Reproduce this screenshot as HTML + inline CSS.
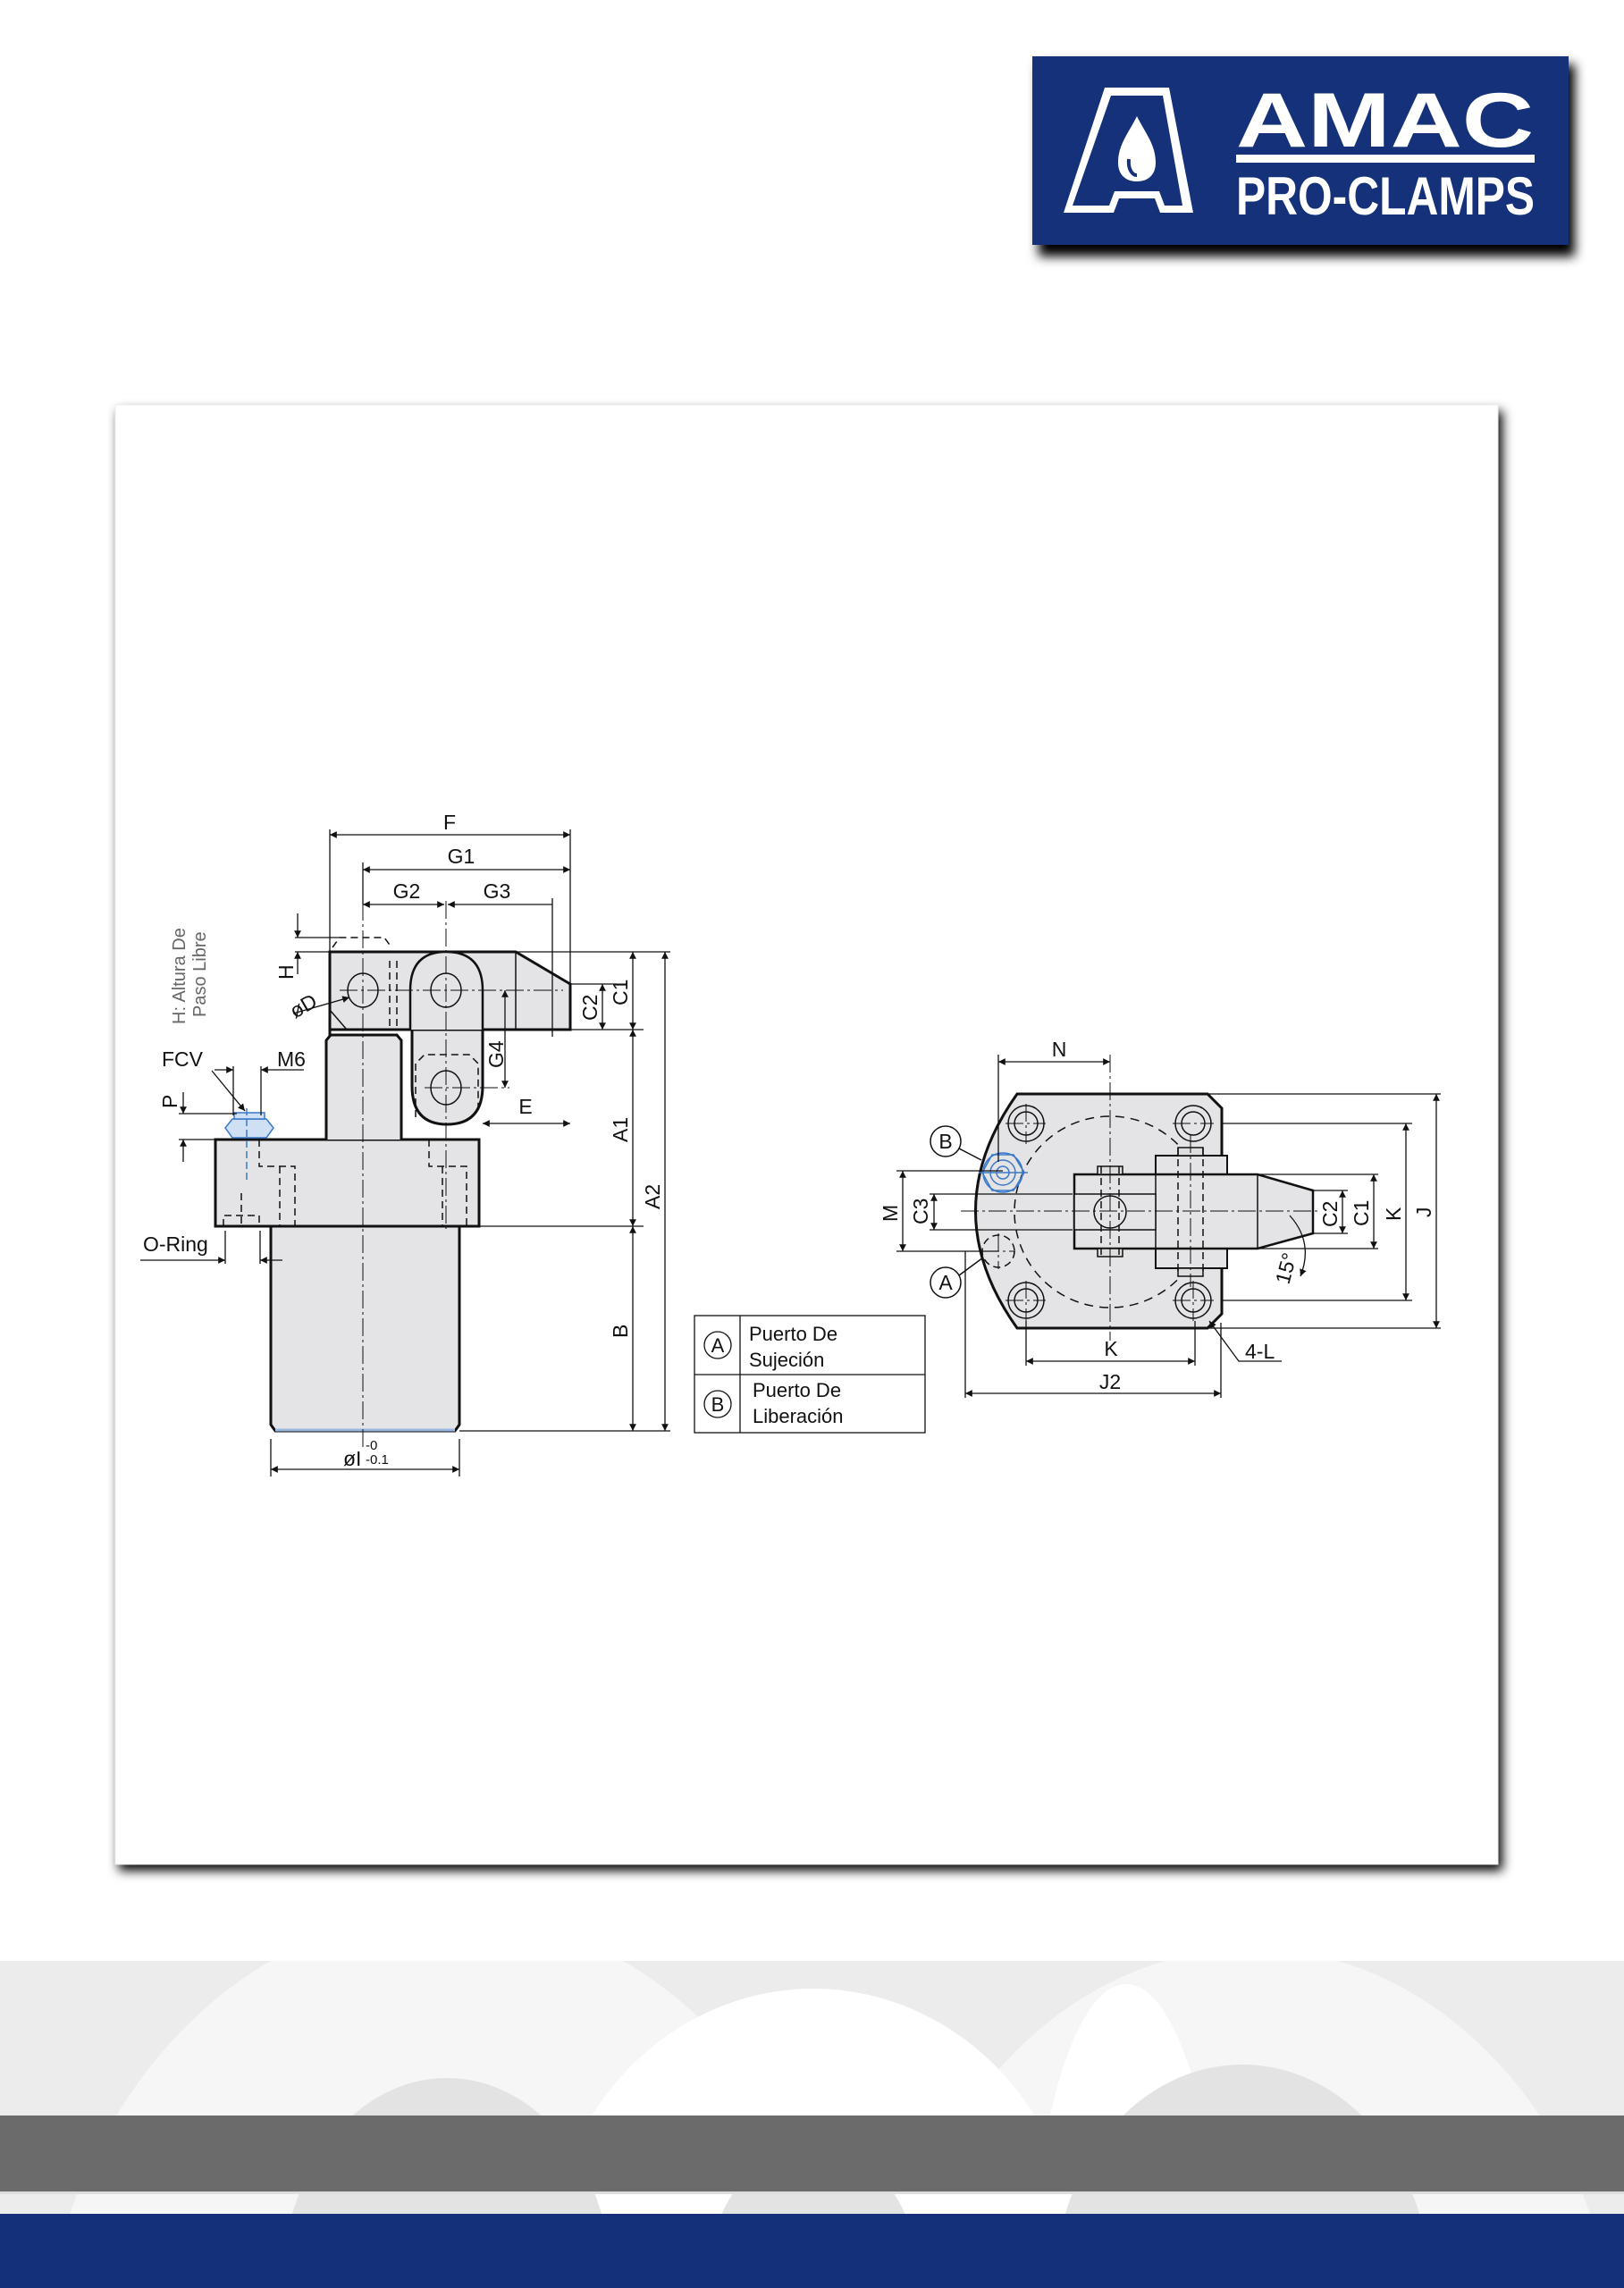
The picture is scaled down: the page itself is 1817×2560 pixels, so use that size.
<!DOCTYPE html>
<html><head><meta charset="utf-8"><style>
html,body{margin:0;padding:0;background:#fff;width:1817px;height:2560px;overflow:hidden}
svg{display:block}
text{font-family:"Liberation Sans",Arial,sans-serif;fill:#111}
</style></head><body>
<svg width="1817" height="2560" viewBox="0 0 1817 2560" xmlns="http://www.w3.org/2000/svg">
<defs>
<marker id="a" viewBox="0 0 10 10" refX="10" refY="5" markerWidth="9" markerHeight="6" orient="auto-start-reverse"><path d="M0,0 L10,5 L0,10 z" fill="#111"/></marker>
<filter id="sh" x="-10%" y="-10%" width="130%" height="140%"><feGaussianBlur stdDeviation="6"/></filter>
<clipPath id="fc"><rect x="0" y="2194" width="1817" height="283"/></clipPath>
</defs>

<!-- Logo -->
<rect x="1162" y="72" width="600" height="215" fill="#000" filter="url(#sh)"/>
<rect x="1155" y="63" width="600" height="211" fill="#14317a"/>
<polygon points="1236,98 1308,98 1335,238 1298,238 1292,222 1252,222 1246,238 1190,238" fill="#fff"/>
<polygon points="1243,107 1301,107 1323,230 1303,230 1297,214 1247,214 1241,230 1200,230" fill="#14317a"/>
<path d="M1272,130 C1262,150 1251,162 1251,182 C1251,196 1260,203 1272,203 C1284,203 1293,196 1293,182 C1293,162 1282,150 1272,130z" fill="#fff"/>
<path d="M1263,178 C1262,188 1266,196 1272,196" stroke="#14317a" stroke-width="4" fill="none"/>
<text x="1383" y="164" font-size="86" font-weight="bold" style="fill:#fff" textLength="333" lengthAdjust="spacingAndGlyphs">AMAC</text>
<rect x="1383" y="173" width="334" height="9" fill="#fff"/>
<text x="1383" y="240" font-size="60" font-weight="bold" style="fill:#fff" textLength="334" lengthAdjust="spacingAndGlyphs">PRO-CLAMPS</text>

<!-- frame -->
<rect x="133" y="460" width="1548" height="1633" fill="#000" filter="url(#sh)"/>
<rect x="129" y="453" width="1547" height="1633" fill="#fff" stroke="#eee" stroke-width="1"/>

<!-- LEFT VIEW -->
<g stroke="#111" stroke-width="1.5" fill="none">
<path d="M303,1372 L303,1594 L308,1601 L509,1601 L514,1594 L514,1372" fill="#e4e4e6" stroke-width="3"/>
<line x1="308" y1="1600" x2="509" y2="1600" stroke="#9ab8e0" stroke-width="3"/>
<rect x="241" y="1275" width="295" height="97" fill="#e4e4e6" stroke-width="3"/>
<path d="M365,1275 L365,1164 L370,1158 L444,1158 L449,1164 L449,1275" fill="#e4e4e6" stroke-width="3"/>
<path d="M461,1152 L461,1215 Q461,1258 500,1258 Q540,1258 540,1215 L540,1152" fill="#e4e4e6" stroke-width="3"/>
<path d="M369,1160 L369,1065 L577,1065 L638,1101 L638,1152 L369,1152" fill="#e4e4e6" stroke-width="3"/>
<path d="M459,1152 L459,1108 Q459,1065 499,1065 Q540,1065 540,1108 L540,1152" fill="#e4e4e6" stroke-width="2.5"/>
<line x1="577" y1="1065" x2="577" y2="1152"/>
<ellipse cx="406" cy="1108" rx="17" ry="19"/>
<ellipse cx="499" cy="1108" rx="17" ry="19"/>
<ellipse cx="499" cy="1217" rx="17" ry="19"/>
<path d="M369,1130 L388,1152"/>
<g stroke-dasharray="8,5">
<path d="M372,1060 L380,1049 L430,1049 L438,1060"/>
<line x1="436" y1="1075" x2="436" y2="1152"/><line x1="444" y1="1075" x2="444" y2="1152"/>
<path d="M465,1250 L465,1190 L475,1180 L525,1180 L535,1190 L535,1245"/>
<path d="M290,1275 L290,1305 L330,1305 L330,1372"/><path d="M313,1305 L313,1372"/>
<path d="M480,1275 L480,1305 L522,1305 L522,1372"/><path d="M495,1305 L495,1372"/>
<path d="M250,1372 L250,1360 L290,1360 L290,1372"/><path d="M270,1335 L270,1372"/>
</g>
<g stroke-dasharray="20,4,3,4" stroke-width="1">
<line x1="406" y1="1010" x2="406" y2="1620"/>
<line x1="499" y1="1008" x2="499" y2="1375"/>
<line x1="380" y1="1108" x2="630" y2="1108"/>
<line x1="475" y1="1217" x2="570" y2="1217"/>
<line x1="618" y1="1008" x2="618" y2="1160"/>
</g>
<g stroke="#3a78c8" stroke-width="1.5" fill="#cfe0f4">
<path d="M252,1262 L260,1252 L298,1252 L306,1262 L298,1273 L260,1273 Z"/>
<rect x="262" y="1245" width="34" height="7"/>
</g>
<line x1="276" y1="1240" x2="276" y2="1320" stroke="#3a78c8" stroke-dasharray="8,4"/>
<g stroke-width="1.3">
<line x1="369" y1="934" x2="638" y2="934" marker-start="url(#a)" marker-end="url(#a)"/>
<line x1="406" y1="973" x2="638" y2="973" marker-start="url(#a)" marker-end="url(#a)"/>
<line x1="406" y1="1012" x2="497" y2="1012" marker-start="url(#a)" marker-end="url(#a)"/>
<line x1="501" y1="1012" x2="618" y2="1012" marker-start="url(#a)"/>
<line x1="369" y1="928" x2="369" y2="1065"/><line x1="638" y1="928" x2="638" y2="1101"/>
<line x1="406" y1="965" x2="406" y2="1012"/>
<line x1="618" y1="1005" x2="618" y2="1160"/>
<line x1="330" y1="1049" x2="380" y2="1049"/><line x1="330" y1="1065" x2="369" y2="1065"/>
<line x1="333" y1="1022" x2="333" y2="1049" marker-end="url(#a)"/>
<line x1="333" y1="1090" x2="333" y2="1065" marker-end="url(#a)"/>
<line x1="328" y1="1134" x2="391" y2="1116" marker-end="url(#a)"/>
<line x1="540" y1="1152" x2="720" y2="1152"/><line x1="577" y1="1065" x2="750" y2="1065"/>
<line x1="638" y1="1101" x2="690" y2="1101"/>
<line x1="536" y1="1372" x2="720" y2="1372"/><line x1="514" y1="1601" x2="750" y2="1601"/>
<line x1="708" y1="1065" x2="708" y2="1152" marker-start="url(#a)" marker-end="url(#a)"/>
<line x1="674" y1="1101" x2="674" y2="1152" marker-start="url(#a)" marker-end="url(#a)"/>
<line x1="708" y1="1152" x2="708" y2="1372" marker-start="url(#a)" marker-end="url(#a)"/>
<line x1="708" y1="1372" x2="708" y2="1601" marker-start="url(#a)" marker-end="url(#a)"/>
<line x1="744" y1="1065" x2="744" y2="1601" marker-start="url(#a)" marker-end="url(#a)"/>
<line x1="565" y1="1108" x2="565" y2="1217" marker-start="url(#a)" marker-end="url(#a)"/>
<line x1="540" y1="1257" x2="638" y2="1257" marker-start="url(#a)" marker-end="url(#a)"/>
<line x1="303" y1="1610" x2="303" y2="1652"/><line x1="514" y1="1610" x2="514" y2="1652"/>
<line x1="303" y1="1644" x2="514" y2="1644" marker-start="url(#a)" marker-end="url(#a)"/>
<line x1="261" y1="1193" x2="261" y2="1248"/><line x1="292" y1="1193" x2="292" y2="1248"/>
<line x1="240" y1="1197" x2="261" y2="1197" marker-end="url(#a)"/>
<line x1="340" y1="1197" x2="292" y2="1197" marker-end="url(#a)"/>
<line x1="237" y1="1198" x2="274" y2="1243" marker-end="url(#a)"/>
<line x1="200" y1="1246" x2="265" y2="1246"/><line x1="200" y1="1275" x2="241" y2="1275"/>
<line x1="205" y1="1222" x2="205" y2="1246" marker-end="url(#a)"/>
<line x1="205" y1="1300" x2="205" y2="1275" marker-end="url(#a)"/>
<line x1="252" y1="1377" x2="252" y2="1414"/><line x1="291" y1="1377" x2="291" y2="1414"/>
<line x1="157" y1="1410" x2="252" y2="1410" marker-end="url(#a)"/>
<line x1="316" y1="1410" x2="291" y2="1410" marker-end="url(#a)"/>
</g>
</g>
<g font-size="23">
<text x="503" y="928" text-anchor="middle">F</text>
<text x="516" y="966" text-anchor="middle">G1</text>
<text x="455" y="1005" text-anchor="middle">G2</text>
<text x="556" y="1005" text-anchor="middle">G3</text>
<text x="588" y="1246" text-anchor="middle">E</text>
<text x="181" y="1193">FCV</text>
<text x="310" y="1193">M6</text>
<text x="160" y="1400">O-Ring</text>
<text x="384" y="1640">øI</text>
<text x="409" y="1622" font-size="15">-0</text>
<text x="409" y="1638" font-size="15">-0.1</text>
<text transform="translate(328,1096) rotate(-90)">H</text>
<text transform="translate(330,1140) rotate(-30)">øD</text>
<text transform="translate(198,1240) rotate(-90)">P</text>
<text transform="translate(563,1195) rotate(-90)">G4</text>
<text transform="translate(668,1142) rotate(-90)">C2</text>
<text transform="translate(702,1125) rotate(-90)">C1</text>
<text transform="translate(702,1278) rotate(-90)">A1</text>
<text transform="translate(738,1353) rotate(-90)">A2</text>
<text transform="translate(702,1497) rotate(-90)">B</text>
</g>
<text transform="translate(207,1146) rotate(-90)" font-size="20" style="fill:#666">H: Altura De</text>
<text transform="translate(230,1138) rotate(-90)" font-size="20" style="fill:#666">Paso Libre</text>

<!-- Table -->
<g stroke="#111" stroke-width="1.3" fill="none">
<rect x="777" y="1472" width="258" height="131"/>
<line x1="777" y1="1538" x2="1035" y2="1538"/>
<line x1="828" y1="1472" x2="828" y2="1603"/>
<circle cx="803" cy="1505" r="15"/><circle cx="803" cy="1571" r="15"/>
</g>
<g font-size="22">
<text x="803" y="1513" text-anchor="middle">A</text>
<text x="803" y="1579" text-anchor="middle">B</text>
<text x="838" y="1500">Puerto De</text><text x="838" y="1529">Sujeción</text>
<text x="842" y="1563">Puerto De</text><text x="842" y="1592">Liberación</text>
</g>

<!-- RIGHT VIEW -->
<g stroke="#111" stroke-width="1.5" fill="none">
<path d="M1138,1224 L1351,1224 L1367,1240 L1367,1470 L1351,1486 L1138,1486 Q1045,1355 1138,1224 Z" fill="#e4e4e6" stroke-width="3"/>
<circle cx="1242" cy="1356" r="107" stroke-dasharray="10,7"/>
<circle cx="1148" cy="1257" r="20"/><circle cx="1148" cy="1257" r="13"/>
<circle cx="1335" cy="1257" r="20"/><circle cx="1335" cy="1257" r="13"/>
<circle cx="1148" cy="1455" r="20"/><circle cx="1148" cy="1455" r="13"/>
<circle cx="1335" cy="1455" r="20"/><circle cx="1335" cy="1455" r="13"/>
<rect x="1293" y="1293" width="80" height="126" fill="#e4e4e6" stroke-width="2"/>
<path d="M1202,1314 L1407,1314 L1469,1332 L1469,1380 L1407,1397 L1202,1397 Z" fill="#e4e4e6" stroke-width="2.5"/>
<line x1="1407" y1="1314" x2="1407" y2="1397"/>
<line x1="1293" y1="1314" x2="1293" y2="1397"/>
<rect x="1202" y="1336" width="91" height="40" fill="#e4e4e6"/>
<ellipse cx="1242" cy="1356" rx="18" ry="18"/>
<rect x="1228" y="1305" width="28" height="9" fill="#ddd"/><rect x="1228" y="1397" width="28" height="9" fill="#ddd"/>
<rect x="1318" y="1284" width="28" height="9" fill="#ddd"/><rect x="1318" y="1419" width="28" height="9" fill="#ddd"/>
<g stroke-dasharray="8,5"><line x1="1318" y1="1284" x2="1318" y2="1428"/><line x1="1346" y1="1284" x2="1346" y2="1428"/><line x1="1232" y1="1305" x2="1232" y2="1406"/><line x1="1252" y1="1305" x2="1252" y2="1406"/>
<circle cx="1117" cy="1400" r="18"/></g>
<g stroke-dasharray="20,4,3,4" stroke-width="1">
<line x1="1242" y1="1180" x2="1242" y2="1500"/>
<line x1="1075" y1="1355" x2="1475" y2="1355"/>
<line x1="1332" y1="1270" x2="1332" y2="1440"/>
<line x1="1125" y1="1257" x2="1170" y2="1257"/><line x1="1148" y1="1235" x2="1148" y2="1280"/>
<line x1="1312" y1="1257" x2="1358" y2="1257"/>
<line x1="1125" y1="1455" x2="1170" y2="1455"/><line x1="1148" y1="1433" x2="1148" y2="1478"/>
<line x1="1312" y1="1455" x2="1358" y2="1455"/><line x1="1335" y1="1433" x2="1335" y2="1478"/>
<line x1="1098" y1="1400" x2="1136" y2="1400"/><line x1="1117" y1="1380" x2="1117" y2="1420"/>
</g>
<g stroke="#3a78c8" fill="none">
<circle cx="1122" cy="1312" r="22"/><circle cx="1122" cy="1312" r="14"/><circle cx="1122" cy="1312" r="7"/>
<path d="M1099,1312 L1110,1292 L1134,1292 L1146,1312 L1134,1332 L1110,1332 Z"/>
<line x1="1095" y1="1312" x2="1150" y2="1312"/>
</g>
<circle cx="1058" cy="1277" r="17" fill="#fff"/><circle cx="1058" cy="1435" r="17" fill="#fff"/>
<line x1="1073" y1="1285" x2="1098" y2="1298"/><line x1="1073" y1="1427" x2="1100" y2="1407"/>
<g stroke-width="1.3">
<line x1="1117" y1="1180" x2="1117" y2="1300"/>
<line x1="1117" y1="1188" x2="1242" y2="1188" marker-start="url(#a)" marker-end="url(#a)"/>
<line x1="1351" y1="1224" x2="1612" y2="1224"/><line x1="1351" y1="1486" x2="1612" y2="1486"/>
<line x1="1367" y1="1257" x2="1580" y2="1257"/><line x1="1367" y1="1455" x2="1580" y2="1455"/>
<line x1="1407" y1="1314" x2="1542" y2="1314"/><line x1="1407" y1="1397" x2="1542" y2="1397"/>
<line x1="1469" y1="1332" x2="1508" y2="1332"/><line x1="1469" y1="1380" x2="1508" y2="1380"/>
<line x1="1607" y1="1224" x2="1607" y2="1486" marker-start="url(#a)" marker-end="url(#a)"/>
<line x1="1573" y1="1257" x2="1573" y2="1455" marker-start="url(#a)" marker-end="url(#a)"/>
<line x1="1537" y1="1314" x2="1537" y2="1397" marker-start="url(#a)" marker-end="url(#a)"/>
<line x1="1502" y1="1332" x2="1502" y2="1380" marker-start="url(#a)" marker-end="url(#a)"/>
<line x1="1003" y1="1310" x2="1122" y2="1310"/><line x1="1003" y1="1400" x2="1117" y2="1400"/>
<line x1="1040" y1="1336" x2="1200" y2="1336"/><line x1="1040" y1="1376" x2="1200" y2="1376"/>
<line x1="1010" y1="1310" x2="1010" y2="1400" marker-start="url(#a)" marker-end="url(#a)"/>
<line x1="1045" y1="1336" x2="1045" y2="1376" marker-start="url(#a)" marker-end="url(#a)"/>
<line x1="1148" y1="1478" x2="1148" y2="1528"/><line x1="1337" y1="1478" x2="1337" y2="1528"/>
<line x1="1148" y1="1523" x2="1337" y2="1523" marker-start="url(#a)" marker-end="url(#a)"/>
<line x1="1080" y1="1400" x2="1080" y2="1564"/><line x1="1366" y1="1480" x2="1366" y2="1564"/>
<line x1="1080" y1="1559" x2="1366" y2="1559" marker-start="url(#a)" marker-end="url(#a)"/>
<path d="M1434,1523 L1386,1523 L1353,1478" marker-end="url(#a)"/>
<path d="M1443,1360 Q1470,1390 1455,1428" marker-end="url(#a)"/>
</g>
</g>
<g font-size="23">
<text x="1185" y="1182" text-anchor="middle">N</text>
<text x="1243" y="1517" text-anchor="middle">K</text>
<text x="1242" y="1554" text-anchor="middle">J2</text>
<text x="1393" y="1520">4-L</text>
<text x="1058" y="1285" text-anchor="middle">B</text>
<text x="1058" y="1443" text-anchor="middle">A</text>
<text transform="translate(1004,1367) rotate(-90)">M</text>
<text transform="translate(1038,1370) rotate(-90)">C3</text>
<text transform="translate(1496,1373) rotate(-90)">C2</text>
<text transform="translate(1531,1372) rotate(-90)">C1</text>
<text transform="translate(1567,1366) rotate(-90)">K</text>
<text transform="translate(1601,1362) rotate(-90)">J</text>
<text transform="translate(1442,1438) rotate(-75)">15°</text>
</g>

<!-- footer -->
<rect x="0" y="2194" width="1817" height="283" fill="#ececec"/>
<g clip-path="url(#fc)">
<g fill="#f6f6f6">
<ellipse cx="500" cy="2700" rx="460" ry="560"/>
<ellipse cx="1400" cy="2700" rx="420" ry="520"/>
</g>
<g fill="#fff">
<ellipse cx="910" cy="2550" rx="300" ry="325"/>
<ellipse cx="1260" cy="2620" rx="110" ry="400"/>
</g>
<g fill="#e3e3e3">
<ellipse cx="500" cy="2560" rx="185" ry="235"/>
<ellipse cx="910" cy="2560" rx="120" ry="160"/>
<ellipse cx="1390" cy="2560" rx="210" ry="250"/>
</g>
</g>
<rect x="0" y="2367" width="1817" height="85" fill="#6b6b6b"/>
<rect x="0" y="2452" width="1817" height="3" fill="#ddd"/>
<rect x="0" y="2477" width="1817" height="83" fill="#14307a"/>
</svg>
</body></html>
